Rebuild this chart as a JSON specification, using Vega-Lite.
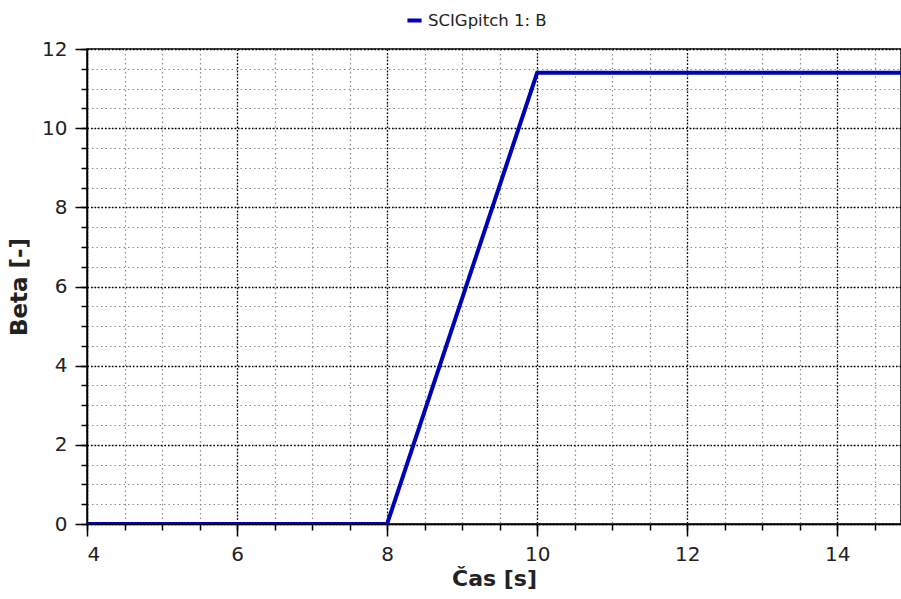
{
  "$schema": "https://vega.github.io/schema/vega-lite/v6.json",
  "width": 814,
  "height": 475,
  "autosize": {"type": "none"},
  "padding": {"left": 87, "top": 49, "right": 0, "bottom": 75},
  "background": "white",
  "config": {
    "view": {"stroke": "#000", "strokeWidth": 1.5},
    "font": "DejaVu Sans"
  },
  "data": {"values": [
    {"t": 4, "beta": 0, "series": "SCIGpitch 1: B"},
    {"t": 8, "beta": 0, "series": "SCIGpitch 1: B"},
    {"t": 10, "beta": 11.4, "series": "SCIGpitch 1: B"},
    {"t": 15, "beta": 11.4, "series": "SCIGpitch 1: B"}
  ]},
  "resolve": {"axis": {"x": "independent", "y": "independent"}},
  "layer": [
    {
      "mark": {"type": "line", "opacity": 0, "clip": true},
      "encoding": {
        "x": {"field": "t", "type": "quantitative", "scale": {"domain": [4, 14.85], "nice": false},
          "axis": {"orient": "bottom", "values": [4,4.5,5,5.5,6,6.5,7,7.5,8,8.5,9,9.5,10,10.5,11,11.5,12,12.5,13,13.5,14,14.5],
            "labels": false, "title": null, "domain": false, "tickSize": 6, "tickColor": "#000", "tickWidth": 1.5,
            "grid": true, "gridColor": "#8a8a8a", "gridDash": [1.5, 3], "gridWidth": 1.2}},
        "y": {"field": "beta", "type": "quantitative", "scale": {"domain": [0, 12], "nice": false},
          "axis": {"orient": "left", "values": [0,0.5,1,1.5,2,2.5,3,3.5,4,4.5,5,5.5,6,6.5,7,7.5,8,8.5,9,9.5,10,10.5,11,11.5,12],
            "labels": false, "title": null, "domain": false, "tickSize": 6, "tickColor": "#000", "tickWidth": 1.5,
            "grid": true, "gridColor": "#8a8a8a", "gridDash": [1.5, 3], "gridWidth": 1.2}}
      }
    },
    {
      "mark": {"type": "line", "strokeWidth": 4, "clip": true},
      "encoding": {
        "x": {"field": "t", "type": "quantitative", "scale": {"domain": [4, 14.85], "nice": false},
          "axis": {"orient": "bottom", "values": [4, 6, 8, 10, 12, 14], "title": "Čas [s]",
            "titleFont": "DejaVu Sans", "titleFontSize": 22, "titleFontWeight": "bold", "titleColor": "#222", "titlePadding": 4,
            "labelFontSize": 20, "labelColor": "#222", "labelPadding": 8, "domain": true, "domainColor": "#000", "domainWidth": 1.5,
            "tickSize": 12, "tickColor": "#000", "tickWidth": 1.5,
            "grid": true, "gridColor": "#000", "gridDash": [1.5, 2], "gridWidth": 1.3}},
        "y": {"field": "beta", "type": "quantitative", "scale": {"domain": [0, 12], "nice": false},
          "axis": {"orient": "left", "values": [0, 2, 4, 6, 8, 10, 12], "title": "Beta [-]",
            "titleFont": "DejaVu Sans", "titleFontSize": 23, "titleFontWeight": "bold", "titleColor": "#222", "titlePadding": 10,
            "labelFontSize": 20, "labelColor": "#222", "labelPadding": 8, "domain": true, "domainColor": "#000", "domainWidth": 1.5,
            "tickSize": 12, "tickColor": "#000", "tickWidth": 1.5,
            "grid": true, "gridColor": "#000", "gridDash": [1.5, 2], "gridWidth": 1.3}},
        "color": {"field": "series", "type": "nominal", "scale": {"range": ["#0000b4"]},
          "legend": {"orient": "none", "legendX": 318, "legendY": -38, "title": null, "symbolType": "stroke",
            "symbolStrokeWidth": 4, "symbolSize": 200, "labelFontSize": 16.5, "labelColor": "#222", "labelFont": "DejaVu Sans"}}
      }
    }
  ]
}
